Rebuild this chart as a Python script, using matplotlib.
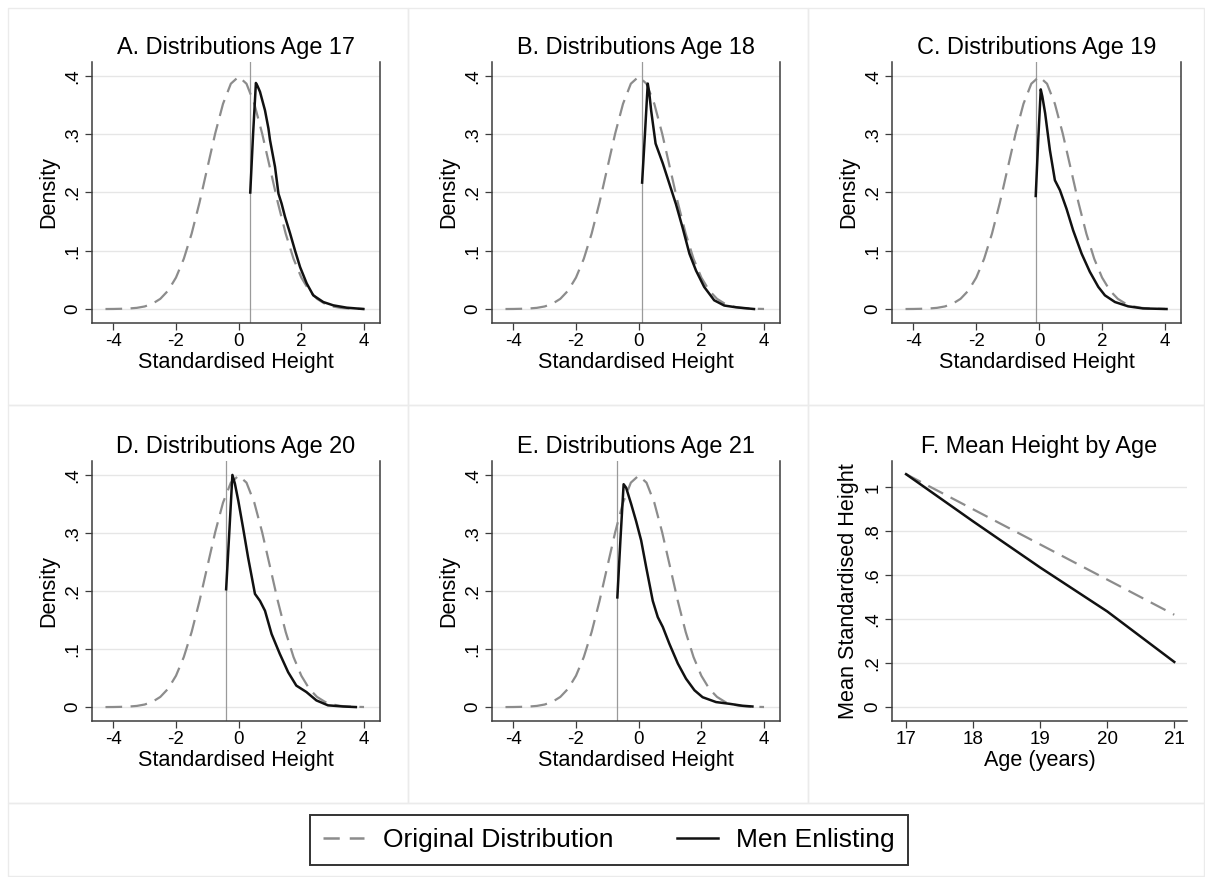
import matplotlib
matplotlib.use("Agg")
import matplotlib.pyplot as plt
from matplotlib.lines import Line2D
from matplotlib.patches import Rectangle

plt.rcParams['font.family'] = ['Liberation Sans', 'DejaVu Sans']

# original (standard normal) distribution
orig_x = [-4.25, -4.0, -3.75, -3.5, -3.25, -3.0, -2.75, -2.5, -2.25, -2.0, -1.75,
          -1.5, -1.25, -1.0, -0.75, -0.5, -0.25, 0.0, 0.25, 0.5, 0.75, 1.0, 1.25,
          1.5, 1.75, 2.0, 2.25, 2.5, 2.75, 3.0, 3.25, 3.5, 3.75, 4.0]
orig_y = [0.0000, 0.0001, 0.0004, 0.0009, 0.0020, 0.0044, 0.0091, 0.0175, 0.0317,
          0.0540, 0.0863, 0.1295, 0.1826, 0.2420, 0.3011, 0.3521, 0.3867, 0.3989,
          0.3867, 0.3521, 0.3011, 0.2420, 0.1826, 0.1295, 0.0863, 0.0540, 0.0317,
          0.0175, 0.0091, 0.0044, 0.0020, 0.0009, 0.0004, 0.0001]

titles = ["A. Distributions Age 17", "B. Distributions Age 18", "C. Distributions Age 19",
          "D. Distributions Age 20", "E. Distributions Age 21"]
cutoffs = [0.37, 0.11, -0.11, -0.40, -0.68]

enl17_x = [0.37, 0.46, 0.55, 0.60, 0.68, 0.84, 0.95, 1.0, 1.16, 1.27, 1.37, 1.48, 1.64,
           1.80, 1.96, 2.17, 2.38, 2.70, 3.02, 3.45, 3.98]
enl17_y = [0.20, 0.30, 0.388, 0.383, 0.373, 0.341, 0.310, 0.290, 0.244, 0.198, 0.181,
           0.158, 0.130, 0.100, 0.072, 0.044, 0.0235, 0.012, 0.0063, 0.0023, 0.0]

enl18_x = [0.11, 0.20, 0.29, 0.34, 0.40, 0.54, 0.77, 0.98, 1.19, 1.40, 1.62, 1.83, 2.09,
           2.41, 2.73, 3.10, 3.68]
enl18_y = [0.217, 0.30, 0.387, 0.37, 0.34, 0.284, 0.250, 0.215, 0.180, 0.140, 0.095,
           0.066, 0.038, 0.015, 0.006, 0.003, 0.0]

enl19_x = [-0.11, -0.03, 0.05, 0.10, 0.19, 0.34, 0.50, 0.66, 0.87, 1.08, 1.35, 1.61,
           1.88, 2.09, 2.41, 2.83, 3.30, 4.05]
enl19_y = [0.194, 0.29, 0.377, 0.365, 0.336, 0.273, 0.221, 0.204, 0.172, 0.135, 0.095,
           0.064, 0.038, 0.0235, 0.012, 0.0046, 0.001, 0.0]

enl20_x = [-0.40, -0.30, -0.20, -0.12, -0.01, 0.14, 0.30, 0.52, 0.68, 0.84, 1.05, 1.31,
           1.58, 1.84, 2.16, 2.48, 2.85, 3.33, 3.74]
enl20_y = [0.203, 0.30, 0.400, 0.385, 0.355, 0.309, 0.258, 0.195, 0.183, 0.166, 0.126,
           0.092, 0.060, 0.037, 0.026, 0.0115, 0.003, 0.001, 0.0]

enl21_x = [-0.68, -0.58, -0.48, -0.40, -0.24, -0.08, 0.08, 0.24, 0.45, 0.61, 0.77, 0.98,
           1.25, 1.51, 1.78, 2.04, 2.47, 2.89, 3.31, 3.63]
enl21_y = [0.189, 0.29, 0.384, 0.378, 0.350, 0.320, 0.287, 0.241, 0.183, 0.155, 0.138,
           0.109, 0.075, 0.049, 0.029, 0.017, 0.0086, 0.0057, 0.0023, 0.001]

enlist_x = [enl17_x, enl18_x, enl19_x, enl20_x, enl21_x]
enlist_y = [enl17_y, enl18_y, enl19_y, enl20_y, enl21_y]

# panel F: mean standardised height by age
ages = [17, 18, 19, 20, 21]
mean_orig = [1.06, 0.90, 0.74, 0.58, 0.42]
mean_enlist = [1.06, 0.845, 0.635, 0.435, 0.205]

W, H = 1205, 877
GRAY = '#8c8c8c'
DASH = (7.5, 3.8)
SPINE = '#3c3c3c'

fig = plt.figure(figsize=(W / 100, H / 100), dpi=100)

# faint cell borders (Stata graph combine look)
cells = [(8, 8, 400, 397), (408, 8, 400, 397), (808, 8, 396, 397),
         (8, 405, 400, 398), (408, 405, 400, 398), (808, 405, 396, 398),
         (8, 803, 1196, 73)]
for cx, cy, cw, ch in cells:
    fig.add_artist(Rectangle((cx / W, 1 - (cy + ch) / H), cw / W, ch / H,
                             transform=fig.transFigure, fill=False,
                             edgecolor='#ebebeb', lw=1))


def add_axes(left, top, right, bottom):
    return fig.add_axes([left / W, 1 - bottom / H, (right - left) / W, (bottom - top) / H])


def style(ax, right_spine=True):
    ax.spines['top'].set_visible(False)
    ax.spines['right'].set_visible(right_spine)
    for s in ['left', 'bottom', 'right']:
        ax.spines[s].set_color(SPINE)
        ax.spines[s].set_linewidth(1.1)
    ax.tick_params(direction='out', length=5, width=0.9, color=SPINE,
                   labelsize=13.5, pad=2.5, right=False)
    ax.grid(axis='y', color='#e6e6e6', lw=1)
    ax.set_axisbelow(True)


positions = [(92, 62, 380, 323), (492, 62, 780, 323), (892, 62, 1181, 323),
             (92, 461, 380, 721), (492, 461, 780, 721)]

for i in range(5):
    ax = add_axes(*positions[i])
    style(ax)
    ax.axvline(cutoffs[i], color='#9a9a9a', lw=0.9, zorder=1)
    ax.plot(orig_x, orig_y, color=GRAY, lw=1.6, dashes=DASH, zorder=2)
    ax.plot(enlist_x[i], enlist_y[i], color='#111111', lw=1.8, zorder=3)
    ax.set_xlim(-4.68, 4.51)
    ax.set_ylim(-0.024, 0.424)
    ax.set_xticks([-4, -2, 0, 2, 4])
    ax.set_xticklabels(['-4', '-2', '0', '2', '4'])
    ax.set_yticks([0, 0.1, 0.2, 0.3, 0.4])
    ax.set_yticklabels(['0', '.1', '.2', '.3', '.4'], rotation=90, va='center')
    ax.set_xlabel('Standardised Height', fontsize=15.6, labelpad=1)
    ax.set_ylabel('Density', fontsize=15.6, labelpad=4)
    ax.set_title(titles[i], fontsize=16.9, pad=6)

axf = add_axes(892, 461, 1187, 721)
style(axf, right_spine=False)
axf.plot(ages, mean_orig, color=GRAY, lw=1.6, dashes=DASH)
axf.plot(ages, mean_enlist, color='#111111', lw=1.8)
axf.set_xlim(16.79, 21.19)
axf.set_ylim(-0.064, 1.12)
axf.set_xticks(ages)
axf.set_yticks([0, 0.2, 0.4, 0.6, 0.8, 1.0])
axf.set_yticklabels(['0', '.2', '.4', '.6', '.8', '1'], rotation=90, va='center')
axf.set_xlabel('Age (years)', fontsize=15.6, labelpad=1)
axf.set_ylabel('Mean Standardised Height', fontsize=15.6, labelpad=4)
axf.set_title('F. Mean Height by Age', fontsize=16.9, pad=6)

handles = [Line2D([], [], color=GRAY, lw=1.8, dashes=(6.5, 4)),
           Line2D([], [], color='#111111', lw=1.8)]
leg = fig.legend(handles, ['Original Distribution', 'Men Enlisting'], loc='center',
                 bbox_to_anchor=(609 / W, 1 - 840 / H), ncol=2, fontsize=19,
                 frameon=True, fancybox=False, edgecolor='black', handlelength=1.55,
                 columnspacing=2.4, borderpad=0.5, handletextpad=0.7)
leg.get_frame().set_linewidth(1.4)

fig.savefig('out.png', dpi=100, facecolor='white')
